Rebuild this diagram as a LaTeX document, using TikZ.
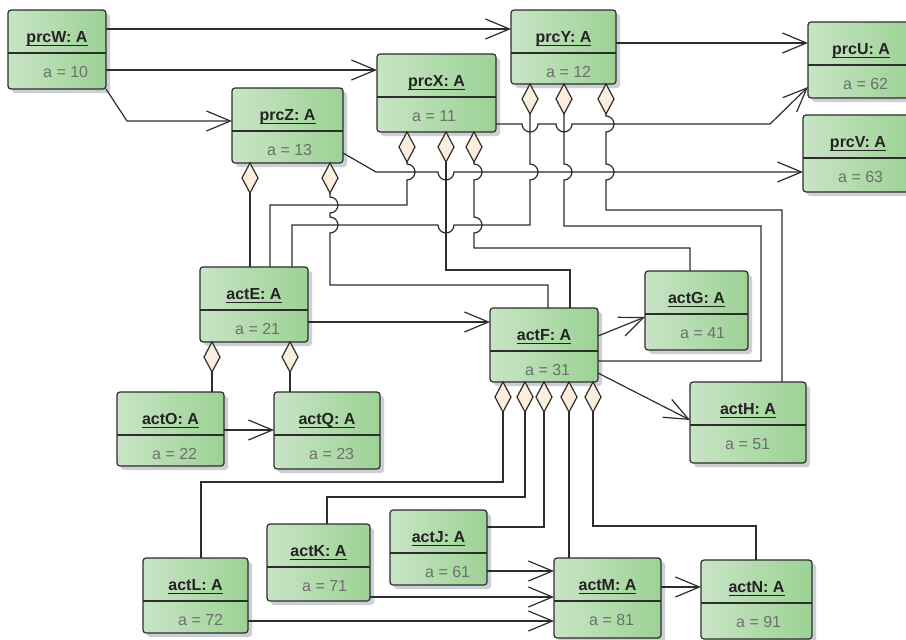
\documentclass[tikz,border=0pt]{standalone}
\usepackage{fontspec}
\setmainfont{Liberation Sans}
\usetikzlibrary{arrows.meta,shapes.geometric}
\definecolor{linec}{RGB}{45,45,45}
\definecolor{boxl}{RGB}{200,228,197}
\definecolor{boxr}{RGB}{156,210,148}
\definecolor{shadowc}{RGB}{205,207,214}
\definecolor{cream}{RGB}{251,238,220}
\definecolor{titlec}{RGB}{35,35,35}
\definecolor{attrc}{RGB}{110,110,110}
\newcommand{\ulx}[1]{\setbox0\hbox{#1}\rlap{\rule[-4pt]{\wd0}{1pt}}\box0}
\tikzset{
 objbox/.style={draw=linec, line width=1.2pt, rounded corners=3pt, left color=boxl, right color=boxr, inner sep=0pt, outer sep=0pt},
 conn/.style={draw=linec, line width=1.2pt},
 arr/.style={conn, -{Straight Barb[length=24pt,width=20pt]}},
 comp/.style={diamond, draw=linec, fill=cream, line width=1.2pt, minimum width=16pt, minimum height=30pt, inner sep=0pt, outer sep=0pt},
 ttl/.style={font=\fontsize{16}{19}\selectfont\bfseries, text=titlec, inner sep=0pt},
 atr/.style={font=\fontsize{16}{19}\selectfont, text=attrc, inner sep=0pt},
}
\newcommand{\umlobj}[7]{%
 \fill[shadowc, rounded corners=3pt] ({#2+4},{-(#3)-4}) rectangle ({#4+4},{-(#5)-4});
 \node[objbox, minimum width={(#4)-(#2)}, minimum height={(#5)-(#3)}, anchor=north west] (#1) at (#2,-#3) {};
 \draw[draw=linec, line width=1.2pt] (#2,{-(#3)-43}) -- (#4,{-(#3)-43});
 \node[ttl, anchor=base] at ({(#2+#4)/2},{-(#3)-32}) {\ulx{#6}};
 \node[atr, anchor=base west] at ({#2+35},{-(#3)-67}) {#7};
}
\begin{document}
\begin{tikzpicture}[x=1pt,y=1pt]
\useasboundingbox (0,0) rectangle (906,-640);
\fill[white] (0,0) rectangle (906,-640);
\clip (0,0) rectangle (906,-640);
% objects
\umlobj{prcW}{8}{10}{106}{89}{prcW: A}{a = 10}
\umlobj{prcZ}{232}{88}{343}{163}{prcZ: A}{a = 13}
\umlobj{prcX}{377}{54}{496}{132}{prcX: A}{a = 11}
\umlobj{prcY}{511}{10}{616}{84}{prcY: A}{a = 12}
\umlobj{prcU}{808}{22}{914}{98}{prcU: A}{a = 62}
\umlobj{prcV}{803}{115}{913}{192}{prcV: A}{a = 63}
\umlobj{actE}{200}{267}{308}{342}{actE: A}{a = 21}
\umlobj{actF}{490}{308}{598}{382}{actF: A}{a = 31}
\umlobj{actG}{645}{271}{748}{350}{actG: A}{a = 41}
\umlobj{actH}{690}{382}{806}{463}{actH: A}{a = 51}
\umlobj{actO}{117}{392}{224}{466}{actO: A}{a = 22}
\umlobj{actQ}{274}{392}{380}{469}{actQ: A}{a = 23}
\umlobj{actL}{143}{558}{248}{633}{actL: A}{a = 72}
\umlobj{actK}{267}{524}{370}{601}{actK: A}{a = 71}
\umlobj{actJ}{390}{510}{487}{585}{actJ: A}{a = 61}
\umlobj{actM}{554}{558}{661}{638}{actM: A}{a = 81}
\umlobj{actN}{701}{560}{812}{639}{actN: A}{a = 91}
% composition diamonds
\node[comp] (dZa) at (250,-178) {};
\node[comp] (dZb) at (330,-178) {};
\node[comp] (dXa) at (407,-147) {};
\node[comp] (dXb) at (446,-147) {};
\node[comp] (dXc) at (474,-147) {};
\node[comp] (dYa) at (530,-99) {};
\node[comp] (dYb) at (564,-99) {};
\node[comp] (dYc) at (606,-99) {};
\node[comp] (dEa) at (212,-357) {};
\node[comp] (dEb) at (290,-357) {};
\node[comp] (dFa) at (503,-397) {};
\node[comp] (dFb) at (525,-397) {};
\node[comp] (dFc) at (544,-397) {};
\node[comp] (dFd) at (569,-397) {};
\node[comp] (dFe) at (593,-397) {};
% arrows
\draw[arr] (prcW.east |- 0,-29) -- (prcY.west |- 0,-29);
\draw[arr] (prcW.east |- 0,-70) -- (prcX.west |- 0,-70);
\draw[arr] (prcW.south east) -- (127,-121) -- (prcZ.west |- 0,-121);
\draw[arr] (prcY.east |- 0,-43) -- (prcU.west |- 0,-43);
\draw[arr] (prcX.east |- 0,-124) -- (522,-124) arc[start angle=180,end angle=360,radius=8] -- (556,-124) arc[start angle=180,end angle=360,radius=8] -- (770,-124) -- (prcU.west |- 0,-87);
\draw[arr] (prcZ.east |- 0,-153) -- (376,-172) -- (438,-172) arc[start angle=180,end angle=360,radius=8] -- (prcV.west |- 0,-172);
\draw[arr] (actE.east |- 0,-322) -- (actF.west |- 0,-322);
\draw[arr] (actF.east |- 0,-336) -- (actG.west |- 0,-317);
\draw[arr] (actF.east |- 0,-373) -- (actH.west |- 0,-420);
\draw[arr] (actO.east |- 0,-430) -- (actQ.west |- 0,-430);
\draw[arr] (actJ.east |- 0,-571) -- (actM.west |- 0,-571);
\draw[arr] (actK.east |- 0,-597) -- (actM.west |- 0,-597);
\draw[arr] (actL.east |- 0,-621) -- (actM.west |- 0,-621);
\draw[arr] (actM.east |- 0,-587) -- (actN.west |- 0,-587);
% compositions
\draw[conn] (dZa.south) -- (dZa.south |- actE.north);
\draw[conn] (dZb.south) -- (330,-197) arc[start angle=90,end angle=-90,radius=8] -- (330,-217) arc[start angle=90,end angle=-90,radius=8] -- (330,-285) -- (548,-285) -- (548,-285 |- actF.north);
\draw[conn] (dXa.south) -- (407,-164) arc[start angle=90,end angle=-90,radius=8] -- (407,-205) -- (270,-205) -- (270,-205 |- actE.north);
\draw[conn] (dXb.south) -- (446,-270) -- (570,-270) -- (570,-270 |- actF.north);
\draw[conn] (dXc.south) -- (474,-164) arc[start angle=90,end angle=-90,radius=8] -- (474,-217) arc[start angle=90,end angle=-90,radius=8] -- (474,-248) -- (690,-248) -- (690,-248 |- actG.north);
\draw[conn] (dYa.south) -- (530,-164) arc[start angle=90,end angle=-90,radius=8] -- (530,-225) -- (454,-225) arc[start angle=0,end angle=-180,radius=8] -- (292,-225) -- (292,-225 |- actE.north);
\draw[conn] (dYb.south) -- (564,-164) arc[start angle=90,end angle=-90,radius=8] -- (564,-226) -- (761,-226) -- (761,-361) -- (actF.east |- 0,-361);
\draw[conn] (dYc.south) -- (606,-116) arc[start angle=90,end angle=-90,radius=8] -- (606,-164) arc[start angle=90,end angle=-90,radius=8] -- (606,-210) -- (782,-210) -- (782,-210 |- actH.north);
\draw[conn] (dEa.south) -- (dEa.south |- actO.north);
\draw[conn] (dEb.south) -- (dEb.south |- actQ.north);
\draw[conn] (dFa.south) -- (503,-482) -- (201,-482) -- (201,-482 |- actL.north);
\draw[conn] (dFb.south) -- (525,-497) -- (327,-497) -- (327,-497 |- actK.north);
\draw[conn] (dFc.south) -- (544,-527) -- (actJ.east |- 0,-527);
\draw[conn] (dFd.south) -- (dFd.south |- actM.north);
\draw[conn] (dFe.south) -- (593,-526) -- (756,-526) -- (756,-526 |- actN.north);
\end{tikzpicture}
\end{document}
